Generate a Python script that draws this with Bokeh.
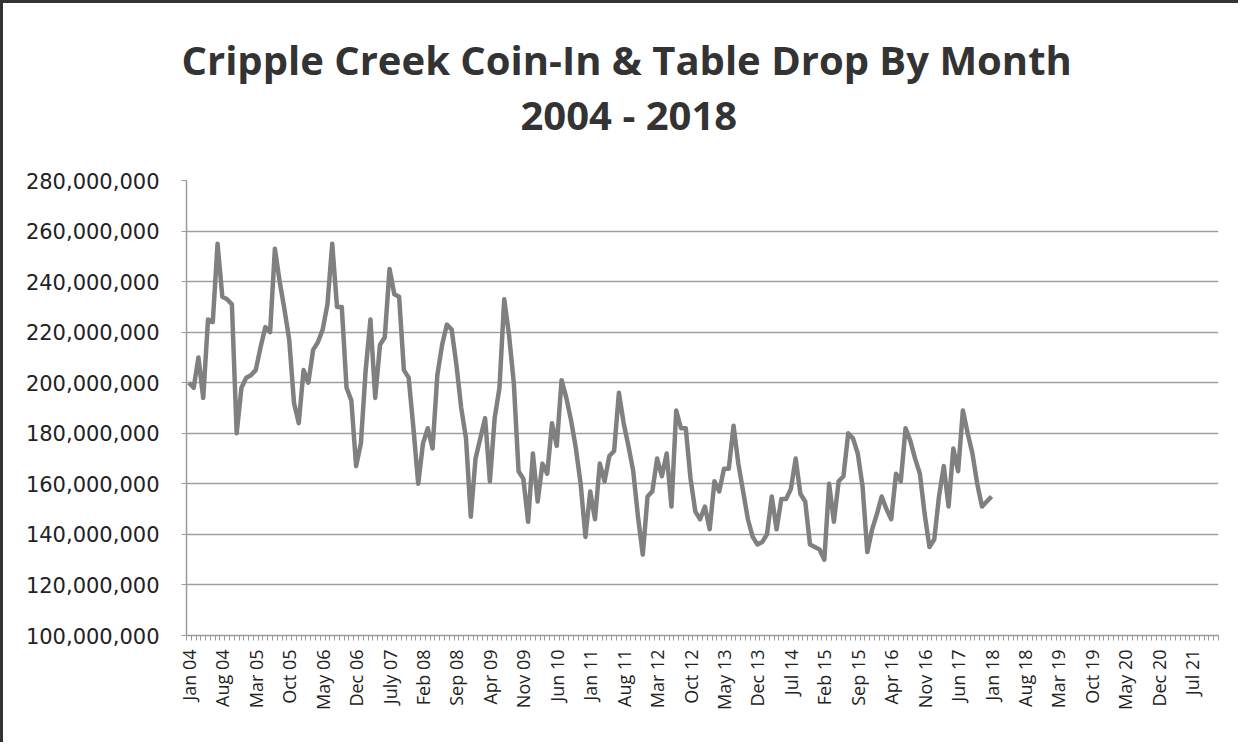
import math
from bokeh.plotting import figure
from bokeh.models import Range1d, FixedTicker, NumeralTickFormatter, Title, ColumnDataSource
from bokeh.embed import file_html
from bokeh.resources import INLINE

# Monthly coin-in & table drop (millions of dollars)
y2004 = [200, 198, 210, 194, 225, 224, 255, 234, 233, 231, 180, 198]
y2005 = [202, 203, 205, 214, 222, 220, 253, 240, 229, 217, 192, 184]
y2006 = [205, 200, 213, 216, 221, 231, 255, 230, 230, 198, 193, 167]
y2007 = [176, 205, 225, 194, 215, 218, 245, 235, 234, 205, 202, 182]
y2008 = [160, 176, 182, 174, 203, 215, 223, 221, 207, 190, 178, 147]
y2009 = [170, 178, 186, 161, 186, 198, 233, 219, 200, 165, 162, 145]
y2010 = [172, 153, 168, 164, 184, 175, 201, 194, 185, 174, 160, 139]
y2011 = [157, 146, 168, 161, 171, 173, 196, 184, 175, 165, 147, 132]
y2012 = [155, 157, 170, 163, 172, 151, 189, 182, 182, 162, 149, 146]
y2013 = [151, 142, 161, 157, 166, 166, 183, 168, 157, 146, 139, 136]
y2014 = [137, 140, 155, 142, 154, 154, 158, 170, 156, 153, 136, 135]
y2015 = [134, 130, 160, 145, 161, 163, 180, 178, 172, 159, 133, 142]
y2016 = [148, 155, 150, 146, 164, 161, 182, 177, 170, 164, 148, 135]
y2017 = [138, 155, 167, 151, 174, 165, 189, 180, 172, 160, 151, 153]
y2018 = [155]

# Category axis: Jan 04 .. Dec 21 (216 months), labelled every 7 months
n_months = 216
label_step = 7
tick_labels = ["Jan 04", "Aug 04", "Mar 05", "Oct 05", "May 06", "Dec 06", "July 07",
               "Feb 08", "Sep 08", "Apr 09", "Nov 09", "Jun 10", "Jan 11", "Aug 11",
               "Mar 12", "Oct 12", "May 13", "Dec 13", "Jul 14", "Feb 15", "Sep 15",
               "Apr 16", "Nov 16", "Jun 17", "Jan 18", "Aug 18", "Mar 19", "Oct 19",
               "May 20", "Dec 20", "Jul 21"]

y_ticks = [100, 120, 140, 160, 180, 200, 220, 240, 260, 280]

values_m = (y2004 + y2005 + y2006 + y2007 + y2008 + y2009 + y2010 + y2011 +
            y2012 + y2013 + y2014 + y2015 + y2016 + y2017 + y2018)
values = [v * 1_000_000 for v in values_m]
month_idx = list(range(len(values)))

src = ColumnDataSource(dict(x=month_idx, y=values))

p = figure(width=1238, height=742, output_backend="svg", toolbar_location=None,
           x_range=Range1d(-0.5, n_months - 0.5),
           y_range=Range1d(y_ticks[0] * 1e6, y_ticks[-1] * 1e6),
           min_border_left=183, min_border_right=23, min_border_top=177,
           min_border_bottom=110)
p.outline_line_color = None
p.background_fill_color = "white"
p.border_fill_color = "white"

p.line("x", "y", source=src, line_color="#808080", line_width=4.5, line_join="round")

# Titles (the one added first sits closest to the frame)
p.add_layout(Title(text="2004 - 2018", align="left", offset=334, text_font="Open Sans",
                   text_font_style="bold", text_font_size="40px", text_color="#333333",
                   standoff=77), "above")
p.add_layout(Title(text="Cripple Creek Coin-In & Table Drop By Month", align="left",
                   offset=-5, text_font="Open Sans", text_font_style="bold",
                   text_font_size="40px", text_color="#333333", standoff=-80), "above")

# y axis
p.yaxis.ticker = FixedTicker(ticks=[t * 1e6 for t in y_ticks])
p.yaxis.formatter = NumeralTickFormatter(format="0,0")
p.yaxis.major_label_text_font = "DejaVu Sans"
p.yaxis.major_label_text_font_size = "21px"
p.yaxis.major_label_text_color = "#222222"
p.yaxis.axis_line_color = "#9a9a9a"
p.yaxis.axis_line_width = 1.5
p.yaxis.major_tick_line_color = "#9a9a9a"
p.yaxis.major_tick_out = 5
p.yaxis.major_tick_in = 0
p.yaxis.minor_tick_line_color = None
p.yaxis.major_label_standoff = 22

# x axis
tick_pos = [i * label_step for i in range(len(tick_labels))]
p.xaxis.ticker = FixedTicker(ticks=tick_pos,
                             minor_ticks=[i - 0.5 for i in range(n_months + 1)])
p.xaxis.major_label_overrides = {t: lab for t, lab in zip(tick_pos, tick_labels)}
p.xaxis.major_label_orientation = math.pi / 2
p.xaxis.major_label_text_font = "Open Sans"
p.xaxis.major_label_text_font_size = "18px"
p.xaxis.major_label_text_color = "#222222"
p.xaxis.axis_line_color = "#9a9a9a"
p.xaxis.axis_line_width = 1.5
p.xaxis.major_tick_line_color = None
p.xaxis.minor_tick_line_color = "#9a9a9a"
p.xaxis.minor_tick_out = 5
p.xaxis.minor_tick_in = 0
p.xaxis.major_label_standoff = 8

# grid
p.xgrid.grid_line_color = None
p.ygrid.grid_line_color = "#a0a0a0"
p.ygrid.grid_line_width = 1.5

p.styles = {"border-left": "3px solid #333333", "border-top": "3px solid #333333"}

open("out.html", "w").write(file_html(p, INLINE))
